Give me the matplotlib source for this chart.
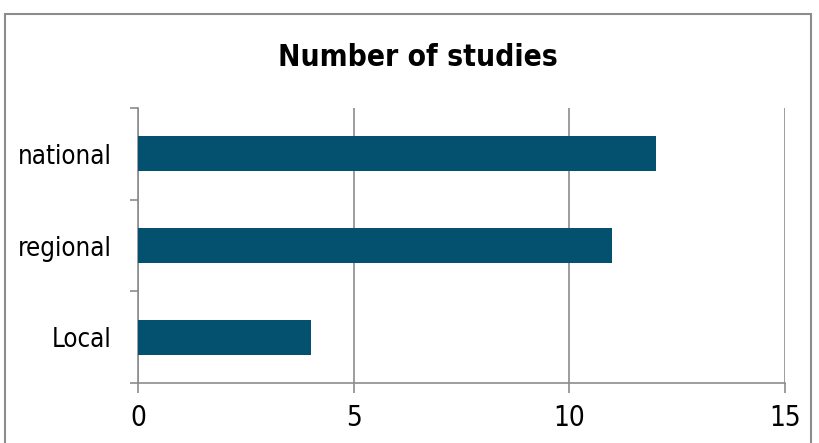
import matplotlib.pyplot as plt
from matplotlib.patches import Rectangle

plt.rcParams['font.family'] = ['DejaVu Sans']
plt.rcParams['font.stretch'] = 'condensed'

categories = ['Local', 'regional', 'national']
counts = [4, 11, 12]
xticks = [0, 5, 10, 15]

fig = plt.figure(figsize=(8.19, 4.43), dpi=100)
ax = fig.add_axes([138/819, 1-383/443, (785-138)/819, (383-108)/443])

ax.barh(range(len(categories)), counts, height=0.38, color='#03506f', zorder=3)

ax.set_xlim(0, 15)
ax.set_ylim(-0.5, 2.5)
ax.set_xticks(xticks)
ax.set_yticks(range(len(categories)))
ax.set_yticklabels(categories)
ax.set_yticks([-0.5, 0.5, 1.5, 2.5], minor=True)
ax.tick_params(axis='y', which='major', length=0, pad=19, labelsize=18.5)
ax.tick_params(axis='y', which='minor', length=6, width=1.2, color='#8c8c8c')
ax.tick_params(axis='x', length=7, width=1.2, color='#8c8c8c', labelsize=20, pad=8)

ax.grid(axis='x', color='#8c8c8c', linewidth=1.2, zorder=0)
for s in ['top', 'right']:
    ax.spines[s].set_visible(False)
for s in ['left', 'bottom']:
    ax.spines[s].set_color('#8c8c8c')
    ax.spines[s].set_linewidth(1.2)

fig.text(418/819, 1-58/443, 'Number of studies', ha='center', va='center',
         fontsize=21.5, fontweight='bold')

fig.patches.append(Rectangle((5/819, -0.05), 806/819, 1-14/443+0.05,
                             transform=fig.transFigure, fill=False,
                             edgecolor='#8c8c8c', linewidth=1.5))

fig.savefig('out.png', dpi=100)
